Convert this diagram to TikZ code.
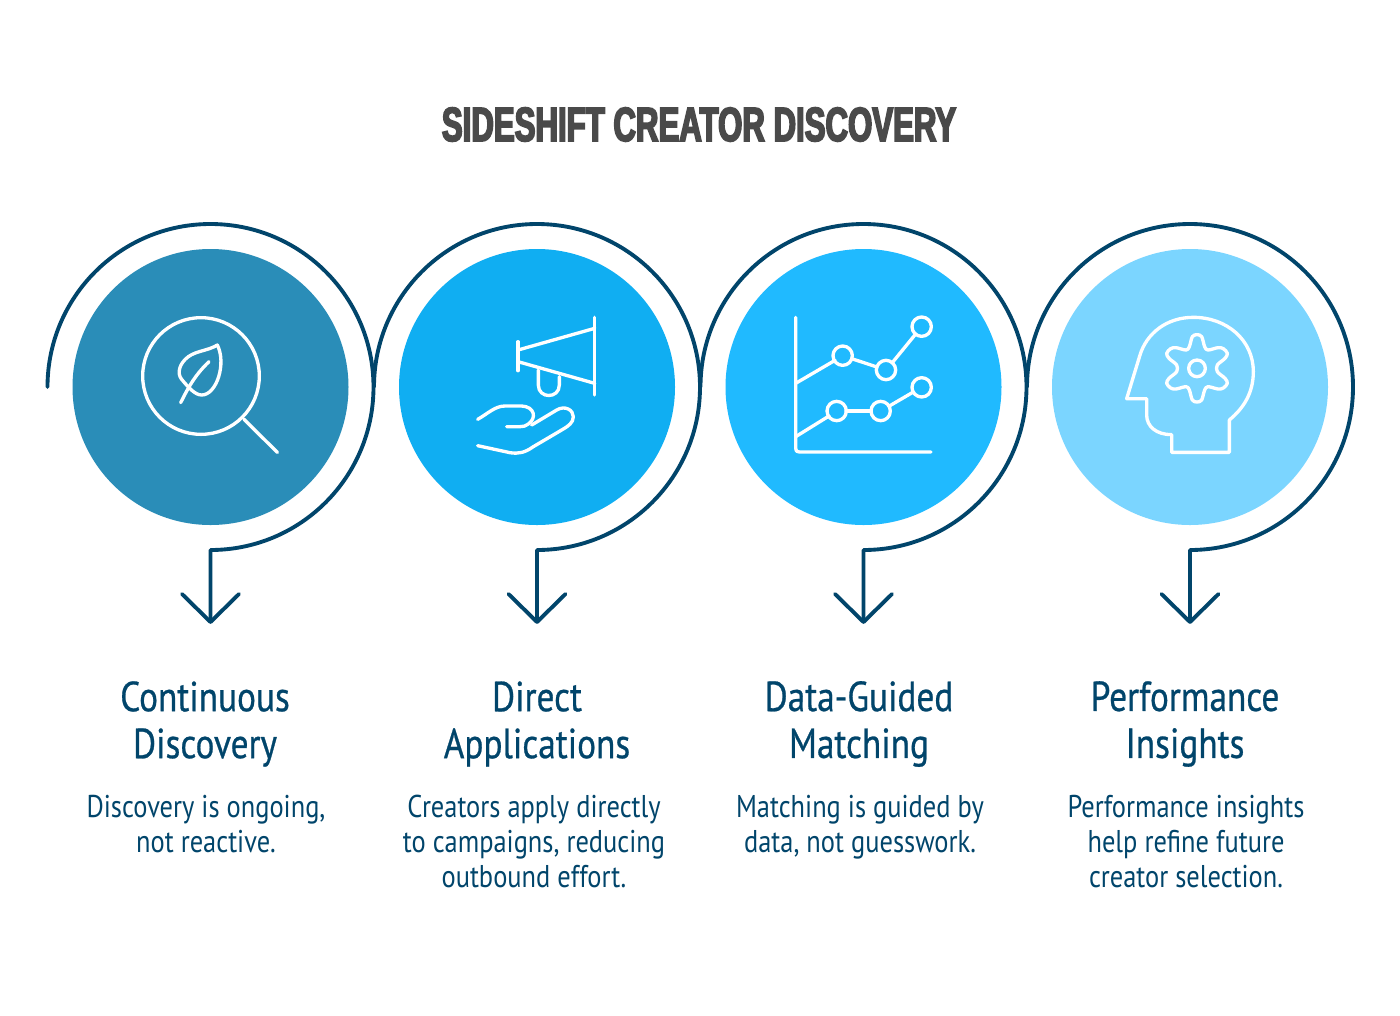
\documentclass[tikz,border=0pt]{standalone}
\usepackage{fontspec}
\setmainfont[FakeStretch=0.84]{PT Sans}
\newfontfamily\headfont[FakeStretch=0.84,FakeBold=0.6]{PT Sans}
\newfontfamily\titlefont[FakeStretch=0.65,FakeBold=3.5]{Liberation Sans Bold}
\definecolor{ink}{HTML}{01456B}
\definecolor{grayt}{HTML}{4A4A4A}
\definecolor{cA}{HTML}{2A8DB8}
\definecolor{cB}{HTML}{10AEF2}
\definecolor{cC}{HTML}{20BAFF}
\definecolor{cD}{HTML}{7BD5FF}
\tikzset{
  disc/.style={circle,minimum size=207pt,inner sep=0pt,outer sep=0pt,fill=#1},
  ring/.style={draw=ink,line width=2.9pt,line join=round,line cap=round},
  icon/.style={draw=white,line width=2.5pt,line join=round,line cap=round},
  head/.style={text=ink,align=center,font=\headfont\fontsize{31.5}{35.2}\selectfont,inner sep=0pt},
  body/.style={text=ink,align=center,font=\fontsize{23.6}{26.2}\selectfont,inner sep=0pt},
  zoomed/.style={shift={#1},x=0.25pt,y=-0.25pt}
}
\begin{document}
\begin{tikzpicture}[x=0.75pt,y=-0.75pt]
\useasboundingbox (0,0) rectangle (1400,1015);
\fill[white] (0,0) rectangle (1400,1015);
\node[text=grayt,inner sep=0pt,font=\titlefont\fontsize{36}{40}\selectfont] (title) at (699,124.5) {SIDESHIFT CREATOR DISCOVERY};
\foreach \n/\cx/\col in {a/210.5/cA,b/537/cB,c/863.5/cC,d/1190/cD}{
  \node[disc=\col] (disc\n) at (\cx,387) {};
  \coordinate (start\n) at (\cx-163,387);
  \coordinate (elbow\n) at (\cx,550);
  \coordinate (tip\n) at (\cx,622);
  \coordinate (wl\n) at (\cx-28.5,594);
  \coordinate (wr\n) at (\cx+28.5,594);
  \draw[ring] (start\n) arc[start angle=180,end angle=-90,radius=122.25pt] -- (tip\n);
  \draw[ring] (wl\n) -- (tip\n) -- (wr\n);
}
% magnifier and leaf
\begin{scope}[zoomed={(120,300)}]
  \draw[icon] (243,228) circle[radius=175];
  \draw[icon] (372,358) -- (472,457);
  \draw[icon] (292,135) .. controls (320,190) and (290,285) .. (245,285)
     .. controls (225,285) and (205,262) .. (185,238)
     .. controls (170,220) and (178,190) .. (205,170)
     .. controls (230,152) and (265,152) .. (292,135) -- cycle;
  \draw[icon] (267,185) .. controls (225,225) and (205,262) .. (182,308);
\end{scope}
% megaphone and hand
\begin{scope}[zoomed={(460,300)}]
  \draw[icon] (174,125) -- (174,212);
  \draw[icon] (404,52) -- (404,285);
  \draw[icon] (174,150) -- (404,85);
  \draw[icon] (174,185) -- (404,250);
  \draw[icon] (235,210) -- (235,255) .. controls (235,297) and (298,297) .. (298,255) -- (298,230);
  \draw[icon] (53,358) .. controls (85,340) and (105,318) .. (135,318) -- (185,318)
     .. controls (225,320) and (230,355) .. (205,372) .. controls (198,378) and (190,380) .. (180,380) -- (140,380);
  \draw[icon] (215,375) -- (290,330) .. controls (315,315) and (340,330) .. (340,350)
     .. controls (340,368) and (325,378) .. (310,387) -- (220,440)
     .. controls (195,458) and (175,462) .. (150,458) -- (53,437);
\end{scope}
% chart
\begin{scope}[zoomed={(780,300)}]
  \draw[icon] (47,52) -- (47,445) .. controls (47,453) and (50,456) .. (58,456) -- (453,456);
  \draw[icon] (47,250) -- (165,181);
  \draw[icon] (215,176) -- (291,201);
  \draw[icon] (336,189) -- (407,102);
  \draw[icon] (47,410) -- (147,348);
  \draw[icon] (198,333) -- (274,333);
  \draw[icon] (328,318) -- (400,276);
  \foreach \p in {(188,167),(318,210),(425,80),(170,333),(302,333),(425,262)}
    \draw[icon] \p circle[radius=29];
\end{scope}
% head and gear
\begin{scope}[zoomed={(1110,300)}]
  \draw[icon] (50,296) -- (110,296) -- (110,345) .. controls (110,380) and (140,404) .. (185,404)
     -- (185,457) -- (358,457) -- (358,360) .. controls (400,325) and (430,280) .. (430,215)
     .. controls (430,120) and (350,52) .. (250,52) .. controls (170,52) and (110,100) .. (90,165) -- cycle;
  \draw[icon] (261,205) circle[radius=25];
  \draw[icon] plot[smooth cycle,tension=0.55] coordinates {
    (238,140)(247,110)(261,104)(275,110)(284,140)(294,150)(324,143)(340,146)(352,160)(345,175)(322,195)(322,215)(345,235)(352,250)(340,264)(324,267)(294,260)(284,270)(275,300)(261,306)(247,300)(238,270)(228,260)(198,267)(182,264)(170,250)(177,235)(200,215)(200,195)(177,175)(170,160)(182,146)(198,143)(228,150)};
\end{scope}
\node[head] (ha) at (205,724) {Continuous\\Discovery};
\node[head] (hb) at (537,724) {Direct\\Applications};
\node[head] (hc) at (859,724) {Data-Guided\\Matching};
\node[head] (hd) at (1185,724) {Performance\\Insights};
\node[body,anchor=north] (ta) at (206,795) {Discovery is ongoing,\\not reactive.};
\node[body,anchor=north] (tb) at (534,795) {Creators apply directly\\to campaigns, reducing\\outbound effort.};
\node[body,anchor=north] (tc) at (860,795) {Matching is guided by\\data, not guesswork.};
\node[body,anchor=north] (td) at (1186,795) {Performance insights\\help refine future\\creator selection.};
\end{tikzpicture}
\end{document}
